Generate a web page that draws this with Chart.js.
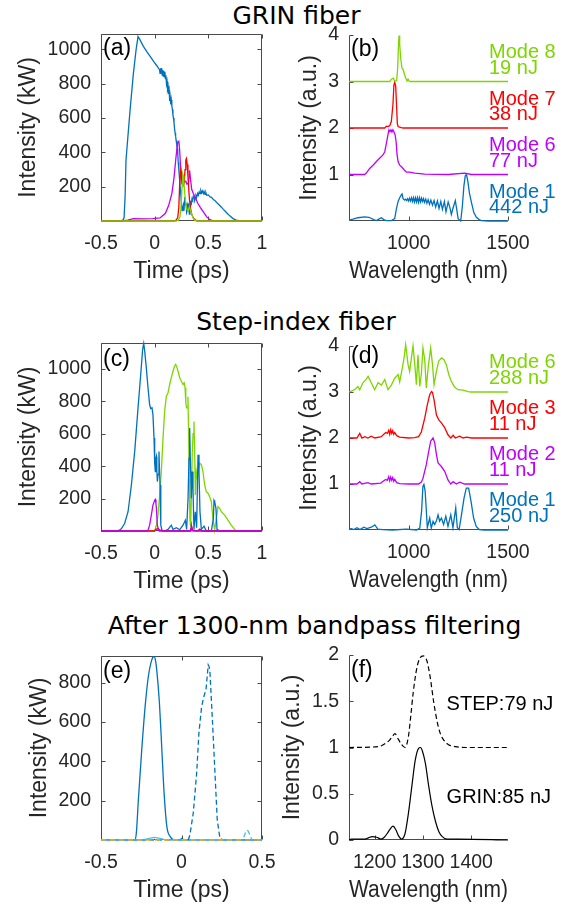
<!DOCTYPE html>
<html><head><meta charset="utf-8">
<script src="https://cdn.jsdelivr.net/npm/chart.js@4/dist/chart.umd.min.js"></script>
<style>
html,body{margin:0;padding:0;background:#fff}
body{width:574px;height:907px;position:relative;overflow:hidden}
canvas{position:absolute;left:0;top:0}
.t{position:absolute;font-family:"DejaVu Sans",sans-serif;font-size:25px;line-height:30px;white-space:nowrap;transform:translateX(-50%);color:#000}
</style></head><body>
<div class="t" style="left:296.5px;top:1px">GRIN fiber</div>
<div class="t" style="left:296px;top:307px">Step-index fiber</div>
<div class="t" style="left:314.5px;top:611px">After 1300-nm bandpass filtering</div>
<canvas id="pa" width="574" height="907"></canvas>
<canvas id="pb" width="574" height="907"></canvas>
<canvas id="pc" width="574" height="907"></canvas>
<canvas id="pd" width="574" height="907"></canvas>
<canvas id="pe" width="574" height="907"></canvas>
<canvas id="pf" width="574" height="907"></canvas>
<script>
// ---------- tick labels ----------
const timeTicks = [-0.5, 0, 0.5, 1];
const timeTicksE = [-0.5, 0, 0.5];
const wlTicks = [1000, 1500];
const wlTicksF = [1200, 1300, 1400];
const kwTicks = [200, 400, 600, 800, 1000];
const kwTicksE = [200, 400, 600, 800];
const auTicks = [1, 2, 3, 4];
const auTicksF = [0, 0.5, 1, 1.5, 2];

// ---------- (a) GRIN fiber, time domain [ps, kW] ----------
const aMode1 = [[-0.5,0],[-0.3,0],[-0.285,20],[-0.275,150],[-0.267,355],[-0.257,433],[-0.229,648],[-0.198,862],[-0.173,999],[-0.155,1075],[-0.14,1060],[-0.105,1018],[-0.07,985],[-0.042,960],[-0.01,930],[0.02,905],[0.045,882],[0.05,860],[0.055,890],[0.06,865],[0.065,892],[0.07,850],[0.075,880],[0.08,845],[0.085,875],[0.09,840],[0.095,870],[0.1,830],[0.105,850],[0.11,800],[0.115,815],[0.12,770],[0.125,785],[0.13,740],[0.135,760],[0.14,700],[0.145,720],[0.15,680],[0.155,705],[0.16,670],[0.165,650],[0.17,620],[0.175,600],[0.18,575],[0.185,540],[0.19,515],[0.195,495],[0.2,470],[0.205,450],[0.21,420],[0.215,390],[0.22,340],[0.225,300],[0.23,260],[0.235,220],[0.24,180],[0.245,140],[0.25,100],[0.255,60],[0.261,72],[0.267,91],[0.273,60],[0.28,140],[0.286,100],[0.292,101],[0.298,50],[0.305,62],[0.311,100],[0.317,91],[0.323,40],[0.329,66],[0.335,110],[0.342,101],[0.348,130],[0.354,121],[0.36,145],[0.367,140],[0.373,120],[0.379,130],[0.385,150],[0.392,140],[0.4,160],[0.407,150],[0.415,170],[0.423,160],[0.43,178],[0.438,165],[0.445,175],[0.454,160],[0.46,172],[0.469,155],[0.477,165],[0.485,150],[0.5,152],[0.516,140],[0.53,138],[0.547,125],[0.56,120],[0.578,108],[0.6,95],[0.62,82],[0.64,68],[0.66,55],[0.67,48],[0.7,30],[0.73,14],[0.76,5],[0.8,0],[1,0]];
const aMode6 = [[-0.5,0],[-0.35,0],[-0.25,5],[-0.2,14],[-0.1,12],[-0.02,14],[0.05,18],[0.1,45],[0.13,90],[0.16,160],[0.18,250],[0.2,380],[0.215,460],[0.225,465],[0.232,420],[0.24,330],[0.25,280],[0.26,245],[0.27,232],[0.28,228],[0.29,232],[0.3,215],[0.315,220],[0.325,296],[0.333,250],[0.345,185],[0.36,160],[0.38,135],[0.4,105],[0.425,80],[0.455,52],[0.485,24],[0.515,8],[0.55,0],[1,0]];
const aMode7 = [[-0.5,0],[0.18,0],[0.2,5],[0.215,20],[0.225,80],[0.232,200],[0.24,296],[0.247,270],[0.253,230],[0.26,245],[0.267,210],[0.275,220],[0.283,300],[0.29,355],[0.296,364],[0.303,330],[0.31,260],[0.318,180],[0.325,120],[0.335,70],[0.345,40],[0.36,18],[0.38,6],[0.4,0],[1,0]];
const aMode8 = [[-0.5,0],[0.2,0],[0.22,4],[0.235,25],[0.243,62],[0.25,130],[0.255,200],[0.261,276],[0.267,265],[0.272,230],[0.278,180],[0.286,121],[0.298,72],[0.311,60],[0.323,82],[0.336,60],[0.348,33],[0.361,14],[0.375,3],[0.39,0],[1,0]];

// ---------- (b) GRIN fiber, spectra [nm, a.u. incl. offset] ----------
const bMode1 = [[700,0.02],[720,0.04],[745,0.07],[779,0.09],[800,0.08],[825,0.03],[838,0.01],[850,0.04],[863,0.07],[875,0.03],[888,0.01],[913,0.01],[930,0.05],[938,0.25],[947,0.42],[955,0.5],[963,0.56],[967,0.58],[972,0.48],[980,0.45],[985,0.47],[990,0.44],[995,0.48],[1000,0.43],[1005,0.49],[1010,0.43],[1015,0.5],[1020,0.42],[1025,0.5],[1030,0.41],[1035,0.5],[1040,0.41],[1045,0.5],[1050,0.4],[1055,0.5],[1060,0.41],[1065,0.49],[1070,0.42],[1075,0.48],[1080,0.4],[1086,0.47],[1092,0.38],[1098,0.46],[1105,0.36],[1112,0.45],[1120,0.34],[1128,0.44],[1136,0.3],[1145,0.43],[1153,0.27],[1162,0.42],[1170,0.25],[1180,0.42],[1188,0.2],[1199,0.41],[1207,0.3],[1215,0.14],[1225,0.3],[1235,0.44],[1242,0.25],[1249,0.05],[1262,0.0],[1270,0.3],[1278,0.75],[1285,0.97],[1291,1.0],[1298,0.85],[1306,0.6],[1316,0.4],[1328,0.18],[1341,0.08],[1355,0.03],[1366,0.01],[1400,0],[1500,0]];
const bMode6 = [[700,1.0],[779,1.0],[787,1.03],[804,1.13],[821,1.2],[838,1.28],[854,1.35],[871,1.42],[880,1.49],[888,1.67],[896,1.85],[901,1.96],[906,1.92],[911,1.96],[916,1.91],[921,1.96],[926,1.92],[932,1.85],[937,1.71],[942,1.42],[947,1.28],[955,1.2],[963,1.17],[972,1.13],[980,1.09],[989,1.05],[1005,1.05],[1031,1.03],[1081,1.01],[1200,1.0],[1282,1.03],[1316,1.0],[1500,1.0]];
const bMode7 = [[700,2.0],[880,2.0],[888,2.04],[896,2.03],[905,2.05],[913,2.14],[921,2.5],[926,2.92],[930,2.98],[935,2.89],[940,2.42],[943,2.1],[947,2.03],[955,2.02],[963,2.01],[972,2.0],[1500,2.0]];
const bMode8 = [[700,3.0],[905,3.0],[913,3.05],[923,3.07],[928,3.02],[933,3.01],[940,3.02],[945,3.3],[949,3.8],[952,3.99],[955,3.8],[960,3.5],[967,3.28],[973,3.25],[980,3.14],[987,3.06],[992,3.01],[997,3.05],[1002,3.01],[1007,3.0],[1500,3.0]];

// ---------- (c) Step-index fiber, time domain ----------
const cMode1 = [[-0.5,0],[-0.342,0],[-0.311,14],[-0.28,46],[-0.248,119],[-0.217,284],[-0.186,491],[-0.155,760],[-0.13,966],[-0.112,1121],[-0.102,1157],[-0.093,1111],[-0.078,1008],[-0.062,884],[-0.047,780],[-0.037,756],[-0.025,760],[-0.016,718],[-0.006,574],[0.0,420],[0.006,367],[0.012,450],[0.016,460],[0.02,380],[0.025,305],[0.032,350],[0.04,491],[0.045,380],[0.05,284],[0.055,150],[0.059,36],[0.068,5],[0.093,0],[0.124,10],[0.155,36],[0.171,10],[0.202,20],[0.233,8],[0.264,36],[0.286,67],[0.298,10],[0.311,202],[0.32,450],[0.326,636],[0.332,450],[0.342,202],[0.348,367],[0.357,264],[0.366,10],[0.379,119],[0.391,20],[0.404,470],[0.413,367],[0.422,120],[0.435,10],[0.46,30],[0.481,0],[0.528,0],[0.547,78],[0.553,189],[0.559,181],[0.571,140],[0.581,10],[0.606,0],[1,0]];
const cMode2 = [[-0.5,0],[-0.07,0],[-0.062,5],[-0.047,36],[-0.031,98],[-0.016,160],[0.0,190],[0.006,195],[0.012,170],[0.016,140],[0.025,36],[0.037,3],[0.045,0],[0.335,0],[0.342,36],[0.35,2],[0.36,0],[1,0]];
const cMode3 = [[-0.5,0],[0.0,0],[0.01,10],[0.03,15],[0.05,5],[0.08,0],[0.33,0],[0.345,25],[0.355,5],[0.4,0],[0.42,12],[0.44,0],[1,0]];
const cMode6 = [[-0.5,0],[0.0,0],[0.016,36],[0.031,98],[0.047,222],[0.062,367],[0.078,574],[0.093,739],[0.109,832],[0.124,852],[0.14,904],[0.155,946],[0.171,987],[0.186,1018],[0.196,1028],[0.208,1008],[0.217,987],[0.233,946],[0.248,925],[0.264,904],[0.275,914],[0.283,884],[0.29,790],[0.297,760],[0.304,760],[0.31,829],[0.316,620],[0.322,320],[0.328,80],[0.335,26],[0.342,200],[0.35,480],[0.358,600],[0.366,675],[0.373,470],[0.379,222],[0.388,367],[0.398,326],[0.41,388],[0.419,419],[0.435,409],[0.45,367],[0.466,284],[0.481,243],[0.497,233],[0.512,212],[0.528,181],[0.543,78],[0.559,5],[0.575,78],[0.59,150],[0.606,140],[0.621,119],[0.652,98],[0.683,67],[0.714,36],[0.745,10],[0.761,0],[1,0]];

// ---------- (d) Step-index fiber, spectra ----------
const dMode1 = [[700,0.02],[712,0.03],[725,0.01],[740,0.05],[755,0.01],[775,0.06],[790,0.03],[812,0.06],[830,0.11],[845,0.02],[870,0.01],[920,0.0],[990,0.02],[1040,0.0],[1056,0.04],[1065,0.4],[1072,0.95],[1077,0.99],[1083,0.85],[1088,0.5],[1094,0.05],[1098,0.12],[1106,0.26],[1114,0.04],[1123,0.19],[1131,0.12],[1140,0.2],[1148,0.33],[1156,0.19],[1165,0.26],[1176,0.12],[1187,0.3],[1198,0.08],[1212,0.33],[1223,0.05],[1237,0.48],[1245,0.05],[1254,0.01],[1265,0.3],[1279,0.7],[1290,0.91],[1302,0.91],[1314,0.62],[1327,0.26],[1340,0.08],[1355,0.01],[1380,0],[1500,0]];
const dMode2 = [[700,1.0],[740,1.0],[754,1.05],[765,1.0],[795,1.03],[812,1.0],[860,1.02],[875,1.07],[885,1.1],[893,1.08],[900,1.16],[905,1.07],[910,1.15],[915,1.08],[920,1.14],[925,1.06],[930,1.1],[940,1.03],[955,1.01],[1000,1.0],[1050,1.0],[1064,1.04],[1072,1.12],[1089,1.42],[1101,1.71],[1111,1.93],[1123,2.0],[1131,1.9],[1140,1.64],[1148,1.46],[1165,1.38],[1182,1.27],[1198,1.09],[1212,1.0],[1224,1.05],[1240,1.0],[1257,1.04],[1282,1.0],[1500,1.0]];
const dMode3 = [[700,2.0],[740,2.0],[754,2.1],[765,2.0],[779,2.03],[795,2.0],[812,2.04],[830,2.0],[863,2.03],[875,2.08],[885,2.12],[893,2.1],[900,2.17],[905,2.08],[910,2.18],[915,2.1],[920,2.16],[925,2.08],[930,2.12],[940,2.05],[955,2.02],[1000,2.0],[1031,2.01],[1050,2.03],[1064,2.13],[1081,2.43],[1094,2.72],[1106,2.94],[1115,3.01],[1120,2.99],[1128,2.83],[1140,2.5],[1151,2.4],[1165,2.33],[1182,2.22],[1198,2.07],[1212,2.0],[1224,2.06],[1235,2.0],[1257,2.04],[1274,2.0],[1291,2.02],[1316,2.0],[1500,2.0]];
const dMode6 = [[700,3.0],[712,3.02],[728,3.05],[745,3.12],[754,3.05],[770,3.2],[787,3.28],[796,3.34],[812,3.2],[829,3.05],[846,3.2],[863,3.15],[880,3.27],[896,3.05],[913,3.15],[930,3.3],[947,3.38],[955,3.22],[967,3.49],[977,3.74],[985,4.03],[997,3.6],[1005,3.45],[1014,3.74],[1022,4.0],[1031,3.6],[1039,3.16],[1047,3.81],[1056,3.12],[1064,3.4],[1072,3.96],[1081,3.7],[1089,3.09],[1098,3.52],[1111,3.96],[1120,3.6],[1128,3.16],[1140,3.45],[1151,3.67],[1165,3.74],[1178,3.7],[1190,3.59],[1202,3.38],[1215,3.23],[1232,3.1],[1249,3.05],[1274,3.04],[1299,3.01],[1316,3.0],[1500,3.0]];

// ---------- (e) after 1300-nm bandpass, time domain ----------
const eGrin = [[-0.5,0],[-0.29,0],[-0.28,40],[-0.268,203],[-0.247,458],[-0.226,678],[-0.206,831],[-0.19,900],[-0.178,928],[-0.17,932],[-0.162,915],[-0.154,866],[-0.137,695],[-0.123,475],[-0.108,237],[-0.091,68],[-0.07,17],[-0.05,2],[-0.03,0],[0.5,0]];
const eGrinB = [[-0.5,0],[-0.24,0],[-0.2,8],[-0.17,13],[-0.14,10],[-0.11,3],[-0.09,0],[0.5,0]];
const eStep = [[-0.5,0],[-0.02,0],[0.0,8],[0.02,0],[0.042,0],[0.052,25],[0.073,136],[0.094,339],[0.108,542],[0.125,678],[0.139,729],[0.152,763],[0.166,890],[0.172,880],[0.177,848],[0.191,627],[0.208,339],[0.222,102],[0.239,8],[0.26,0],[0.5,0]];
const eStepB = [[-0.5,0],[0.37,0],[0.385,10],[0.4,42],[0.408,50],[0.415,45],[0.427,20],[0.438,2],[0.45,0],[0.5,0]];
const eZero = [[-0.5,0],[0.5,0]];

// ---------- (f) after 1300-nm bandpass, spectra ----------
const fGrin = [[1147,0],[1152,0.01],[1180,0.01],[1188,0.025],[1195,0.036],[1204,0.03],[1214,0.01],[1220,0.03],[1226,0.07],[1231,0.11],[1238,0.15],[1244,0.11],[1249,0.05],[1256,0.01],[1263,0.07],[1270,0.29],[1277,0.58],[1284,0.86],[1291,0.99],[1295,1.0],[1299,0.96],[1305,0.83],[1312,0.58],[1319,0.36],[1326,0.2],[1333,0.09],[1340,0.036],[1350,0.01],[1374,0.01],[1476,0]];
const fStep = [[1147,1],[1208,1.01],[1221,1.04],[1231,1.08],[1237,1.12],[1242,1.15],[1249,1.09],[1256,1.03],[1263,1.0],[1270,1.12],[1275,1.35],[1280,1.6],[1287,1.85],[1294,1.97],[1301,1.99],[1308,1.94],[1315,1.76],[1322,1.5],[1329,1.29],[1336,1.15],[1343,1.08],[1353,1.03],[1367,1.01],[1388,1],[1476,1]];

// ---------- labels ----------
const modeNamesB = ['Mode 8', 'Mode 7', 'Mode 6', 'Mode 1'];
const energiesB = ['19 nJ', '38 nJ', '77 nJ', '442 nJ'];
const offsetsB = [3, 2, 1, 0];
const modeNamesD = ['Mode 6', 'Mode 3', 'Mode 2', 'Mode 1'];
const energiesD = ['288 nJ', '11 nJ', '11 nJ', '250 nJ'];
const offsetsD = [3, 2, 1, 0];
const textsF = ['STEP:79 nJ', 'GRIN:85 nJ'];
const textPosF = [[1349, 1.405], [1349, 0.397]];

// ---------- styles ----------
const BLUE = '#0072BD', PURPLE = '#BF00FF', RED = '#FF0000', GREEN = '#7DD600';
const LBLUE = '#4DBEEE', ORANGE = '#EDB120', BLACK = '#000000';
const FONT = "'Liberation Sans', Arial, sans-serif";
const TXT = '#262626';

function panelPlugin(p) {
  return {
    id: 'frame_' + p.id,
    beforeDatasetsDraw(chart) {
      const ctx = chart.ctx, a = chart.chartArea, xs = chart.scales.x, ys = chart.scales.y;
      const L = Math.round(a.left) + 0.5, R = Math.round(a.right) - 0.5;
      const T = Math.round(a.top) + 0.5, B = Math.round(a.bottom) - 0.5;
      ctx.save();
      ctx.strokeStyle = '#4a4a4a'; ctx.lineWidth = 1;
      ctx.beginPath();
      if (p.box) { ctx.rect(L, T, R - L, B - T); }
      else { ctx.moveTo(L, T); ctx.lineTo(L, B); ctx.lineTo(R, B); }
      const tl = 4;
      p.xticks.forEach(v => {
        const px = Math.round(xs.getPixelForValue(v)) + 0.5;
        ctx.moveTo(px, B); ctx.lineTo(px, B - tl);
        if (p.box) { ctx.moveTo(px, T); ctx.lineTo(px, T + tl); }
      });
      p.yticks.forEach(v => {
        const py = Math.round(ys.getPixelForValue(v)) + 0.5;
        ctx.moveTo(L, py); ctx.lineTo(L + tl, py);
        if (p.box) { ctx.moveTo(R, py); ctx.lineTo(R - tl, py); }
      });
      ctx.stroke();
      ctx.restore();
    },
    afterDatasetsDraw(chart) {
      const ctx = chart.ctx, a = chart.chartArea, xs = chart.scales.x, ys = chart.scales.y;
      ctx.save();
      ctx.textBaseline = 'alphabetic'; ctx.textAlign = 'left';
      ctx.fillStyle = '#000';
      ctx.font = '23px ' + FONT;
      ctx.fillText(p.letter, a.left + 2, a.top + p.letterDy);
      if (p.modes) {
        ctx.font = '20px ' + FONT;
        p.modes.names.forEach((n, i) => {
          ctx.fillStyle = p.modes.colors[i];
          const off = p.modes.offsets[i];
          ctx.fillText(n, a.right - 19, ys.getPixelForValue(off + p.modes.dy1));
          ctx.fillText(p.modes.energies[i], a.right - 19, ys.getPixelForValue(off + p.modes.dy2));
        });
      }
      if (p.notes) {
        ctx.font = '20px ' + FONT; ctx.fillStyle = '#000';
        p.notes.texts.forEach((t, i) => {
          ctx.fillText(t, xs.getPixelForValue(p.notes.pos[i][0]), ys.getPixelForValue(p.notes.pos[i][1]));
        });
      }
      ctx.restore();
    }
  };
}

function makePanel(p) {
  const xH = 64;
  new Chart(document.getElementById(p.id), {
    type: 'line',
    data: {
      datasets: p.series.map(s => ({
        data: s.pts.map(q => ({ x: q[0], y: q[1] })),
        borderColor: s.color, borderWidth: s.width || 1.3, borderDash: s.dash || [],
        pointRadius: 0, tension: s.smooth ? 0.4 : 0,
        cubicInterpolationMode: s.smooth ? 'monotone' : 'default',
        fill: false, clip: false
      }))
    },
    options: {
      responsive: false, animation: false, events: [],
      layout: { padding: { left: p.padLeft, top: p.top, right: 574 - p.right, bottom: 907 - p.bottom - xH } },
      plugins: { legend: { display: false }, tooltip: { enabled: false }, title: { display: false } },
      scales: {
        x: {
          type: 'linear', position: 'bottom', min: p.xmin, max: p.xmax,
          afterBuildTicks: s => { s.ticks = p.xticks.map(v => ({ value: v })); },
          afterFit: s => { s.height = xH; },
          grid: { display: false, drawTicks: false }, border: { display: false },
          ticks: { font: { family: FONT, size: 19.5 }, color: TXT, padding: 11, maxRotation: 0, autoSkip: false, callback: v => String(v) },
          title: { display: true, text: p.xtitle, font: { family: FONT, size: 23 }, color: TXT, padding: { top: 0, bottom: 0 } }
        },
        y: {
          type: 'linear', position: 'left', min: p.ymin, max: p.ymax,
          afterBuildTicks: s => { s.ticks = p.yticks.map(v => ({ value: v })); },
          afterFit: s => { s.width = p.left - p.padLeft; },
          grid: { display: false, drawTicks: false }, border: { display: false },
          ticks: { font: { family: FONT, size: 19.5 }, color: TXT, padding: 10, autoSkip: false, callback: v => String(v) },
          title: { display: true, text: p.ytitle, font: { family: FONT, size: 23 }, color: TXT, padding: { top: p.ytitlePad, bottom: 0 } }
        }
      }
    },
    plugins: [panelPlugin(p)]
  });
}

makePanel({ id: 'pa', letter: '(a)', letterDy: 21, box: true,
  padLeft: 0, left: 101, right: 262, top: 34, bottom: 221,
  xmin: -0.5, xmax: 1, ymin: 0, ymax: 1090, xticks: timeTicks, yticks: kwTicks,
  xtitle: 'Time (ps)', ytitle: 'Intensity (kW)', ytitlePad: 15,
  series: [ { pts: aMode8, color: GREEN }, { pts: aMode7, color: RED }, { pts: aMode6, color: PURPLE }, { pts: aMode1, color: BLUE } ] });

makePanel({ id: 'pb', letter: '(b)', letterDy: 21, box: false,
  padLeft: 285, left: 349, right: 508, top: 35, bottom: 221,
  xmin: 700, xmax: 1500, ymin: 0, ymax: 4, xticks: wlTicks, yticks: auTicks,
  xtitle: 'Wavelength (nm)', ytitle: 'Intensity (a.u.)', ytitlePad: 11,
  modes: { names: modeNamesB, energies: energiesB, offsets: offsetsB, colors: [GREEN, RED, PURPLE, BLUE], dy1: 0.5, dy2: 0.17 },
  series: [ { pts: bMode8, color: GREEN }, { pts: bMode7, color: RED }, { pts: bMode6, color: PURPLE }, { pts: bMode1, color: BLUE } ] });

makePanel({ id: 'pc', letter: '(c)', letterDy: 23, box: true,
  padLeft: 0, left: 101, right: 262, top: 343, bottom: 531,
  xmin: -0.5, xmax: 1, ymin: 0, ymax: 1160, xticks: timeTicks, yticks: kwTicks,
  xtitle: 'Time (ps)', ytitle: 'Intensity (kW)', ytitlePad: 15,
  series: [ { pts: cMode2, color: PURPLE }, { pts: cMode3, color: RED }, { pts: cMode1, color: BLUE }, { pts: cMode6, color: GREEN } ] });

makePanel({ id: 'pd', letter: '(d)', letterDy: 17, box: false,
  padLeft: 285, left: 349, right: 508, top: 346, bottom: 530,
  xmin: 700, xmax: 1500, ymin: 0, ymax: 4, xticks: wlTicks, yticks: auTicks,
  xtitle: 'Wavelength (nm)', ytitle: 'Intensity (a.u.)', ytitlePad: 11,
  modes: { names: modeNamesD, energies: energiesD, offsets: offsetsD, colors: [GREEN, RED, PURPLE, BLUE], dy1: 0.52, dy2: 0.18 },
  series: [ { pts: dMode6, color: GREEN }, { pts: dMode3, color: RED }, { pts: dMode2, color: PURPLE }, { pts: dMode1, color: BLUE } ] });

makePanel({ id: 'pe', letter: '(e)', letterDy: 22, box: true,
  padLeft: 0, left: 101, right: 262, top: 656, bottom: 840,
  xmin: -0.5, xmax: 0.5, ymin: 0, ymax: 935, xticks: timeTicksE, yticks: kwTicksE,
  xtitle: 'Time (ps)', ytitle: 'Intensity (kW)', ytitlePad: 26,
  series: [ { pts: eZero, color: ORANGE, dash: [5, 4] }, { pts: eStepB, color: LBLUE, dash: [5, 3] }, { pts: eStep, color: BLUE, dash: [5, 3] },
            { pts: eGrinB, color: LBLUE }, { pts: eGrin, color: BLUE, smooth: true } ] });

makePanel({ id: 'pf', letter: '(f)', letterDy: 22, box: false,
  padLeft: 270, left: 349, right: 508, top: 655, bottom: 840,
  xmin: 1147, xmax: 1476, ymin: 0, ymax: 2, xticks: wlTicksF, yticks: auTicksF,
  xtitle: 'Wavelength (nm)', ytitle: 'Intensity (a.u.)', ytitlePad: 9,
  notes: { texts: textsF, pos: textPosF },
  series: [ { pts: fStep, color: BLACK, dash: [5, 3], width: 1.2, smooth: true }, { pts: fGrin, color: BLACK, width: 1.2, smooth: true } ] });
</script>
</body></html>
